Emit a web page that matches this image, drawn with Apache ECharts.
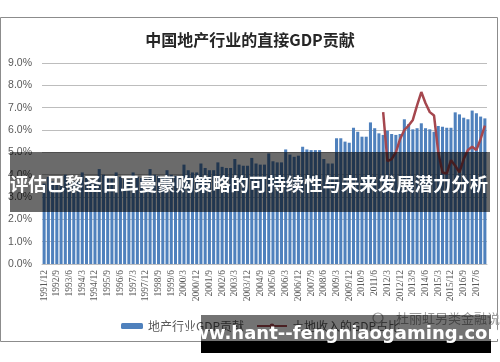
<!DOCTYPE html>
<html><head><meta charset="utf-8">
<script src="https://cdn.jsdelivr.net/npm/echarts@6/dist/echarts.min.js"></script>
<style>html,body{margin:0;padding:0;background:#fff}#c{width:500px;height:362px}</style>
</head><body><div id="c"></div>
<script>
var titleText = '中国地产行业的直接GDP贡献';
var barName = '地产行业GDP贡献';
var lineName = '土地收入的GDP占比';
var bannerText = '评估巴黎圣日耳曼豪购策略的可持续性与未来发展潜力分析';
var siteText = 'www.hant--fengniaogaming.com';
var markText = '杜丽虹另类金融说';

var categories = ['1991/12',
'1992/3','1992/6','1992/9','1992/12','1993/3','1993/6','1993/9','1993/12',
'1994/3','1994/6','1994/9','1994/12','1995/3','1995/6','1995/9','1995/12',
'1996/3','1996/6','1996/9','1996/12','1997/3','1997/6','1997/9','1997/12',
'1998/3','1998/6','1998/9','1998/12','1999/3','1999/6','1999/9','1999/12',
'2000/3','2000/6','2000/9','2000/12','2001/3','2001/6','2001/9','2001/12',
'2002/3','2002/6','2002/9','2002/12','2003/3','2003/6','2003/9','2003/12',
'2004/3','2004/6','2004/9','2004/12','2005/3','2005/6','2005/9','2005/12',
'2006/3','2006/6','2006/9','2006/12','2007/3','2007/6','2007/9','2007/12',
'2008/3','2008/6','2008/9','2008/12','2009/3','2009/6','2009/9','2009/12',
'2010/3','2010/6','2010/9','2010/12','2011/3','2011/6','2011/9','2011/12',
'2012/3','2012/6','2012/9','2012/12','2013/3','2013/6','2013/9','2013/12',
'2014/3','2014/6','2014/9','2014/12','2015/3','2015/6','2015/9','2015/12',
'2016/3','2016/6','2016/9','2016/12','2017/3','2017/6','2017/9','2017/12'];

var barValues = [3.6,
3.9,3.7,3.6,3.6, 4.0,3.8,3.7,3.7, 4.1,3.9,3.8,3.8, 4.25,4.0,3.9,3.85,
4.1,3.9,3.8,3.8, 4.1,3.9,3.85,3.8, 4.25,4.0,3.95,3.9, 4.2,4.0,3.95,3.95,
4.45,4.2,4.1,4.1, 4.5,4.3,4.2,4.2, 4.55,4.35,4.3,4.3, 4.7,4.45,4.4,4.4,
4.75,4.5,4.45,4.45, 4.95,4.6,4.55,4.55, 5.13,4.9,4.8,4.85, 5.25,5.13,5.1,5.1,
5.1,4.7,4.5,4.5, 5.63,5.63,5.48,5.43, 6.1,5.92,5.7,5.7, 6.34,6.08,5.85,5.78,
5.97,5.82,5.78,5.82, 6.48,6.26,6.03,6.08, 6.3,6.08,6.03,5.92, 6.18,6.15,6.1,6.1,
6.79,6.7,6.55,6.48, 6.87,6.75,6.6,6.52];

var lineValues = [
null,null,null,null,null,null,null,null,null,null,
null,null,null,null,null,null,null,null,null,null,
null,null,null,null,null,null,null,null,null,null,
null,null,null,null,null,null,null,null,null,null,
null,null,null,null,null,null,null,null,null,null,
null,null,null,null,null,null,null,null,null,null,
null,null,null,null,null,null,null,null,null,null,
null,null,null,null,null,null,null,null,null,null,
6.8,4.6,4.7,5.0,5.6,6.0,6.2,6.45,7.1,7.7,
7.2,6.8,6.65,5.0,4.1,4.05,4.65,4.4,4.1,4.7,
5.1,5.25,5.1,5.6,6.2];

var yTicks = [0,1,2,3,4,5,6,7,8,9];

var chart = echarts.init(document.getElementById('c'), null, {renderer:'canvas'});
chart.setOption({
  animation:false,
  backgroundColor:'#fff',
  title:{text:titleText, left:'center', top:27,
    textStyle:{fontSize:16, fontWeight:'bold', color:'#262626', fontFamily:'Noto Sans CJK SC'}},
  grid:{left:42, right:13, top:63, bottom:98, containLabel:false},
  legend:[
    {data:[barName], left:116, top:315, itemWidth:22, itemHeight:6,
     textStyle:{fontSize:12, color:'#595959', fontFamily:'Noto Sans CJK SC'}},
    {data:[lineName], left:251, top:315, itemWidth:30, itemHeight:6,
     textStyle:{fontSize:12, color:'#595959', fontFamily:'Noto Sans CJK SC'}}
  ],
  xAxis:{type:'category', data:categories,
    axisLine:{show:true, lineStyle:{color:'#bfbfbf'}},
    axisTick:{show:false},
    axisLabel:{interval:2, rotate:90, fontSize:9.5, color:'#595959', fontFamily:'Liberation Serif', margin:6}},
  yAxis:{type:'value', min:yTicks[0], max:yTicks[yTicks.length-1], interval:1,
    axisLine:{show:false}, axisTick:{show:false},
    splitLine:{lineStyle:{color:'#bdbdbd', width:1}},
    axisLabel:{formatter:function(v){return v.toFixed(1)+'%';}, fontSize:10.5, color:'#595959',
      fontFamily:'Liberation Sans', margin:10}},
  series:[
    {name:barName, type:'bar', data:barValues, barCategoryGap:'28%',
     itemStyle:{color:'#4f81bd'}},
    {name:lineName, type:'line', data:lineValues, symbol:'none', connectNulls:false,
     lineStyle:{color:'#a5474e', width:2.5}, itemStyle:{color:'#a5474e'}}
  ],
  graphic:[
    {type:'rect', z:-10, silent:true, shape:{x:0.5, y:17.5, width:497, height:324},
     style:{fill:null, stroke:'#8c8c8c', lineWidth:1}},
    {type:'rect', z:100, shape:{x:10, y:152, width:480, height:60},
     style:{fill:'rgba(0,0,0,0.58)'}},
    {type:'text', z:101, x:249, y:184,
     style:{text:bannerText, fill:'#fff', font:'bold 18.4px "Noto Sans CJK SC"', textAlign:'center', textVerticalAlign:'middle'}},
    {type:'text', z:99, x:396, y:318,
     style:{text:markText, fill:'#9a9a9a', font:'13px "Noto Sans CJK SC"', textAlign:'left', textVerticalAlign:'middle'}},
    {type:'circle', z:99, shape:{cx:378, cy:318, r:5}, style:{fill:null, stroke:'#9a9a9a', lineWidth:1.2}},
    {type:'rect', z:100, shape:{x:201, y:315, width:290, height:26},
     style:{fill:'rgba(0,0,0,0.55)'}},
    {type:'rect', z:100, shape:{x:201, y:341, width:290, height:12},
     style:{fill:'#000'}},
    {type:'text', z:101, x:341, y:334,
     style:{text:siteText, fill:'#fff', font:'bold 18px "DejaVu Sans"', textAlign:'center', textVerticalAlign:'middle'}}
  ]
});
</script></body></html>
